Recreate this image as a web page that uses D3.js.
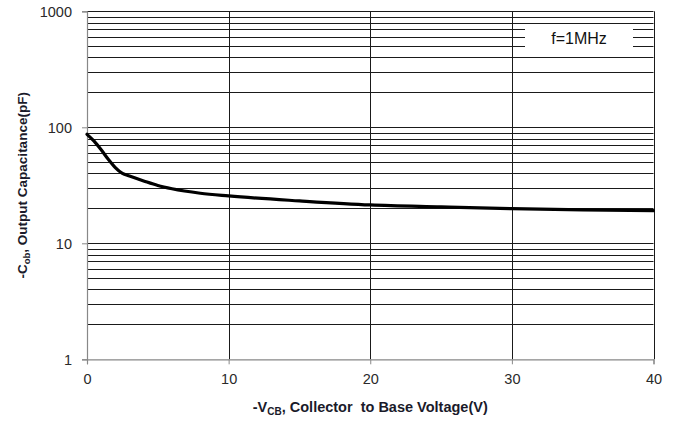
<!DOCTYPE html>
<html><head><meta charset="utf-8">
<script src="https://cdn.jsdelivr.net/npm/d3@7"></script>
<style>body{margin:0;background:#fff}svg{display:block}text{font-family:"Liberation Sans",Arial,sans-serif}</style>
</head><body><svg id="c" width="680" height="421"></svg>
<script>
const voltage = [0, 0.5, 1, 1.5, 2, 2.5, 3, 4, 5, 6, 8, 10, 15, 20, 25, 30, 35, 40];
const capacitance = [87, 76, 64, 53, 45, 40, 38, 34.5, 31.5, 29.5, 27, 25.6, 23.2, 21.4, 20.6, 19.9, 19.4, 19.1];
const xTicks = [0, 10, 20, 30, 40];
const yTicks = [1, 10, 100, 1000];
const legendText = "f=1MHz";
const xTitle = ["-V", "CB", ", Collector  to Base Voltage(V)"];
const yTitle = ["-C", "ob", ", Output  Capacitance(pF)"];

const svg = d3.select("#c");
const L = 87, R = 653.5, T = 11.3, B = 359.3;
const x = d3.scaleLinear().domain([0, 40]).range([L, R]);
const y = d3.scaleLog().domain([1, 1000]).range([B, T]);

// minor horizontal gridlines
const minor = [];
for (let d = 1; d < 1000; d *= 10) for (let k = 2; k <= 10; k++) minor.push(d * k);
svg.append("g").selectAll("line").data(minor).join("line")
  .attr("x1", L).attr("x2", R)
  .attr("y1", d => Math.round(y(d)) + 0.5).attr("y2", d => Math.round(y(d)) + 0.5)
  .attr("stroke", "#1a1a1a").attr("stroke-width", 1);
// vertical gridlines
svg.append("g").selectAll("line").data(xTicks.slice(1)).join("line")
  .attr("x1", d => Math.round(x(d)) + 0.5).attr("x2", d => Math.round(x(d)) + 0.5)
  .attr("y1", T).attr("y2", B)
  .attr("stroke", "#1a1a1a").attr("stroke-width", 1);

// legend box
const lg = svg.append("g");
lg.append("rect").attr("x", 525).attr("y", 25).attr("width", 108).attr("height", 25).attr("fill", "#fff");
lg.append("text").attr("x", 579).attr("y", 44).attr("text-anchor", "middle")
  .attr("font-size", 16).attr("fill", "#111").text(legendText);

// axes
const xa = svg.append("g").attr("transform", `translate(0,${B})`)
  .call(d3.axisBottom(x).tickValues(xTicks).tickSize(5).tickPadding(9).tickFormat(d3.format("d")));
const ya = svg.append("g").attr("transform", `translate(${L},0)`)
  .call(d3.axisLeft(y).tickValues(yTicks).tickSize(5).tickPadding(10).tickFormat(d3.format("d")));
[xa, ya].forEach(a => {
  a.select(".domain").attr("stroke", "#888").attr("stroke-width", 1.2);
  a.selectAll(".tick line").attr("stroke", "#888");
  a.selectAll(".tick text").attr("font-size", 14.5).attr("fill", "#2a2a2a")
    .attr("font-family", '"Liberation Sans",Arial,sans-serif');
});
ya.selectAll(".tick text").attr("dy", "0.36em");

// curve
const pts = voltage.map((v, i) => [v, capacitance[i]]);
svg.append("path").datum(pts)
  .attr("d", d3.line().x(d => x(d[0])).y(d => y(d[1])).curve(d3.curveMonotoneX))
  .attr("fill", "none").attr("stroke", "#000").attr("stroke-width", 3.2).attr("stroke-linecap", "round");

// x title
const xt = svg.append("text").attr("x", (L + R) / 2).attr("y", 412).attr("text-anchor", "middle")
  .attr("xml:space", "preserve").style("white-space", "pre")
  .attr("font-size", 14.5).attr("font-weight", "bold").attr("fill", "#1a1a2a");
xt.append("tspan").text(xTitle[0]);
xt.append("tspan").attr("font-size", 10).attr("dy", 3).text(xTitle[1]);
xt.append("tspan").attr("dy", -3).text(xTitle[2]);

// y title
const yt = svg.append("text").attr("transform", `translate(27,${(T + B) / 2}) rotate(-90)`)
  .attr("text-anchor", "middle").attr("font-size", 13.5).attr("font-weight", "bold").attr("fill", "#1a1a2a");
yt.append("tspan").text(yTitle[0]);
yt.append("tspan").attr("font-size", 9.5).attr("dy", 3).text(yTitle[1]);
yt.append("tspan").attr("dy", -3).text(yTitle[2]);
</script></body></html>
